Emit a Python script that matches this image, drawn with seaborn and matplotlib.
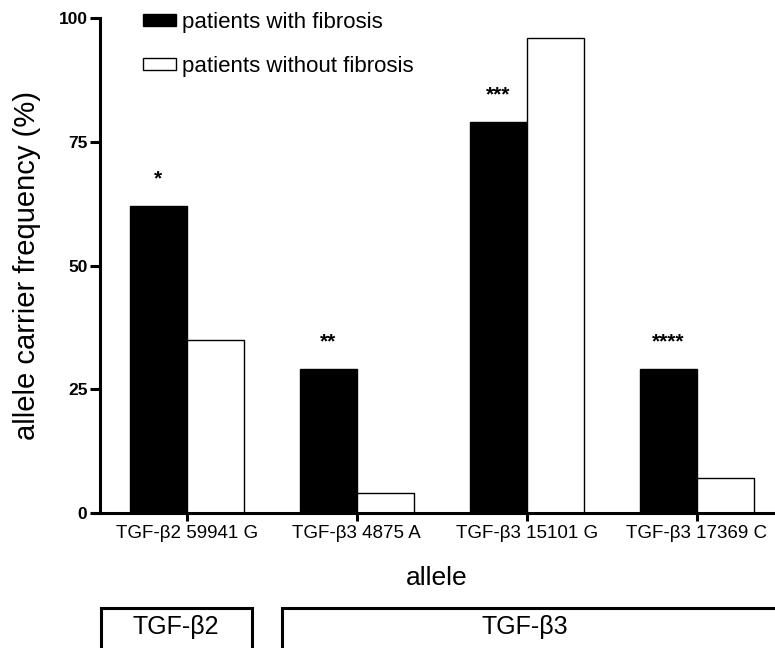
import matplotlib
matplotlib.use("Agg")
import matplotlib.pyplot as plt
from matplotlib.patches import Rectangle
import seaborn as sns
import pandas as pd

alleles = ["TGF-β2 59941 G", "TGF-β3 4875 A", "TGF-β3 15101 G", "TGF-β3 17369 C"]
with_fibrosis = [62, 29, 79, 29]
without_fibrosis = [35, 4, 96, 7]
stars = ["*", "**", "***", "****"]
series_names = ["patients with fibrosis", "patients without fibrosis"]
yticks = [0, 25, 50, 75, 100]

df = pd.DataFrame({
    "allele": alleles * 2,
    "value": with_fibrosis + without_fibrosis,
    "group": [series_names[0]] * 4 + [series_names[1]] * 4,
})

sns.set_style("ticks", {"axes.edgecolor": "black", "xtick.color": "black",
                        "ytick.color": "black", "text.color": "black",
                        "axes.labelcolor": "black"})
plt.rcParams["font.family"] = ["Liberation Sans", "DejaVu Sans"]

W, H = 775, 648
fig = plt.figure(figsize=(W / 100, H / 100), dpi=100)
ax = fig.add_axes([92 / W, (H - 513) / H, (W - 92) / W, 495 / H])

sns.barplot(data=df, x="allele", y="value", hue="group",
            palette={series_names[0]: "black", series_names[1]: "white"},
            width=0.67, edgecolor="black", linewidth=1.0, ax=ax, zorder=2)

for s in ["top", "right"]:
    ax.spines[s].set_visible(False)
for s in ["left", "bottom"]:
    ax.spines[s].set_linewidth(2.2)
    ax.spines[s].set_color("black")
ax.spines["left"].set_position(("outward", -5.76))

ax.set_ylim(0, 100)
ax.set_xlim(-0.557, 3.46)
ax.tick_params(axis="y", length=7, width=2.2, pad=2, direction="out",
               labelsize=12.5, colors="black")
ax.tick_params(axis="x", length=6, width=2.2, pad=3, direction="out",
               labelsize=13.5, colors="black")
ax.set_yticks(yticks, [str(t) for t in yticks])
for lbl in ax.get_yticklabels():
    lbl.set_fontweight("bold")
    lbl.set_fontsize(12.5)

# significance stars above black bars
for i, (v, st) in enumerate(zip(with_fibrosis, stars)):
    ax.text(i - 0.1675, v + 5.5, st, ha="center", va="center",
            fontsize=15, fontweight="bold", color="black")

ax.set_ylabel("allele carrier frequency (%)", fontsize=21, color="black")
ax.yaxis.set_label_coords((41 - 92) / 683, 0.5)
ax.set_xlabel("allele", fontsize=19, color="black")
ax.xaxis.label.set_va("center")
ax.xaxis.set_label_coords((437 - 92) / 683, (513 - 578) / 495)

leg = ax.legend(loc="upper left", bbox_to_anchor=(143 / W, 1 - 12 / H),
                bbox_transform=fig.transFigure, frameon=False, fontsize=16,
                handlelength=1.5, handleheight=0.4, handletextpad=0.25,
                labelspacing=1.03, borderpad=0, borderaxespad=0)
for t in leg.get_texts():
    t.set_color("black")

# group boxes at the bottom
for (x0, x1) in [(101, 252), (282, 800)]:
    r = Rectangle((x0 / W, (H - 660) / H), (x1 - x0) / W, 52 / H,
                  transform=fig.transFigure, fill=False, edgecolor="black",
                  linewidth=2.2, clip_on=False)
    fig.add_artist(r)
cx = [176, 525]
for c, label in zip(cx, ["TGF-β2", "TGF-β3"]):
    fig.text(c / W, 1 - 627 / H, label, ha="center", va="center",
             fontsize=18, color="black")

fig.savefig("out.png", dpi=100)
